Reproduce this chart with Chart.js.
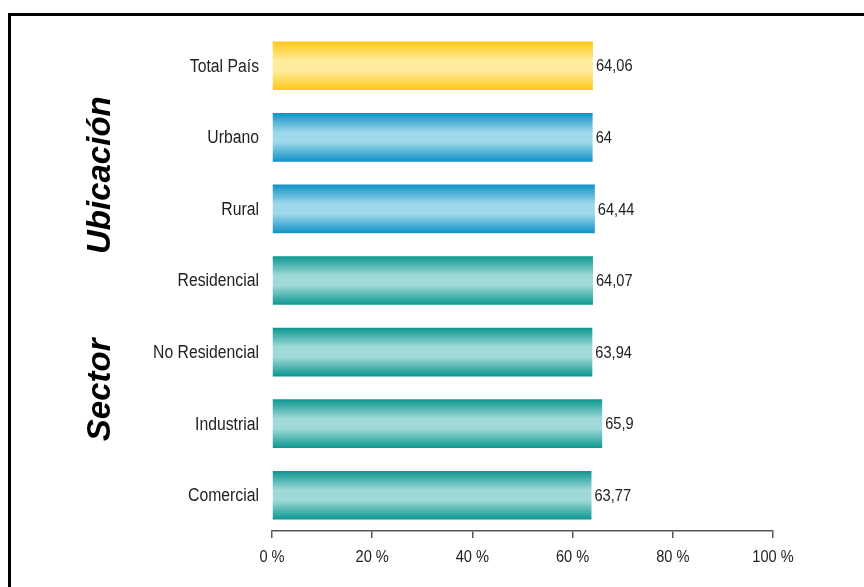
<!DOCTYPE html>
<html>
<head>
<meta charset="utf-8">
<script src="https://cdn.jsdelivr.net/npm/chart.js@4/dist/chart.umd.min.js"></script>
<style>
  html, body { margin: 0; padding: 0; background: #fff; }
  #wrap { width: 864px; height: 587px; }
</style>
</head>
<body>
<div id="wrap"><canvas id="chart1" width="864" height="587"></canvas></div>
<script>
'use strict'

const CATEGORIES = ['Total País', 'Urbano', 'Rural', 'Residencial', 'No Residencial', 'Industrial', 'Comercial']
const VALUES = [64.06, 64, 64.44, 64.07, 63.94, 65.9, 63.77]
const GROUPS = ['total', 'ubicacion', 'ubicacion', 'sector', 'sector', 'sector', 'sector']
const GROUP_LABELS = [
	{ text: 'Ubicación', from: 1, to: 2 },
	{ text: 'Sector', from: 3, to: 6 }
]
const X_TICKS = [0, 20, 40, 60, 80, 100]

// edge colour / centre colour for each bar group
const SHADES = {
	total: ['#ffc816', '#ffec9c'],
	ubicacion: ['#0f92c6', '#9fd8ea'],
	sector: ['#0c9690', '#a0dad8']
}

const SANS = '"Liberation Sans", Arial, sans-serif'
const TEXT_COLOR = '#222'
const BAR_PCT = 0.68

const fmt = v => String(v).replace('.', ',')

// no narrow face installed, so squeeze the regular one horizontally
const narrowText = function(c, text, x, y, size, squeeze, align) {
	c.save()
	c.font = size + 'px ' + SANS
	c.fillStyle = TEXT_COLOR
	c.textAlign = align
	c.textBaseline = 'middle'
	c.translate(x, y)
	c.scale(squeeze, 1)
	c.fillText(text, 0, 0)
	c.restore()
}

const barFill = function(ctx) {
	const chart = ctx.chart
	const yScale = chart.scales.y
	if (!chart.chartArea || !yScale) return SHADES[GROUPS[ctx.dataIndex]][0]
	const y = yScale.getPixelForValue(ctx.dataIndex)
	const half = (chart.chartArea.bottom - chart.chartArea.top) / CATEGORIES.length * BAR_PCT / 2
	const [edge, mid] = SHADES[GROUPS[ctx.dataIndex]]
	const g = chart.ctx.createLinearGradient(0, y - half, 0, y + half)
	g.addColorStop(0, edge)
	g.addColorStop(0.4, mid)
	g.addColorStop(0.6, mid)
	g.addColorStop(1, edge)
	return g
}

// frame round the whole figure
const framePlugin = {
	id: 'frame',
	afterDraw(chart) {
		const c = chart.ctx
		c.save()
		c.strokeStyle = '#000'
		c.lineWidth = 3
		c.strokeRect(9.5, 14.5, 900, 700)
		c.restore()
	}
}

// category names, axis percentages and bar values
const labelsPlugin = {
	id: 'narrowLabels',
	afterDatasetsDraw(chart) {
		const c = chart.ctx
		const xScale = chart.scales.x
		const yScale = chart.scales.y
		CATEGORIES.forEach((name, i) => {
			narrowText(c, name, chart.chartArea.left - 13, yScale.getPixelForValue(i) + 1, 18, 0.875, 'right')
		})
		X_TICKS.forEach(v => {
			narrowText(c, v + ' %', xScale.getPixelForValue(v), chart.chartArea.bottom + 26, 17, 0.86, 'center')
		})
		chart.getDatasetMeta(0).data.forEach((bar, i) => {
			narrowText(c, fmt(VALUES[i]), bar.x + 3, bar.y + 1, 17, 0.86, 'left')
		})
	}
}

// rotated group titles on the left
const groupTitles = {
	id: 'groupTitles',
	afterDraw(chart) {
		const c = chart.ctx
		const yScale = chart.scales.y
		c.save()
		c.font = 'italic bold 33px ' + SANS
		c.fillStyle = '#000'
		c.textAlign = 'center'
		c.textBaseline = 'middle'
		GROUP_LABELS.forEach(g => {
			const y = (yScale.getPixelForValue(g.from) + yScale.getPixelForValue(g.to)) / 2
			c.save()
			c.translate(101, y + 2)
			c.rotate(-Math.PI / 2)
			c.fillText(g.text, 0, 0)
			c.restore()
		})
		c.restore()
	}
}

const ctx = document.getElementById('chart1').getContext('2d')
const chart = new Chart(ctx, {
	type: 'bar',
	data: {
		labels: CATEGORIES,
		datasets: [{
			data: VALUES,
			backgroundColor: barFill,
			borderWidth: 0,
			barPercentage: BAR_PCT,
			categoryPercentage: 1
		}]
	},
	options: {
		indexAxis: 'y',
		responsive: false,
		animation: false,
		layout: { padding: { top: 30, right: 91, left: 0, bottom: 0 } },
		plugins: {
			legend: { display: false },
			tooltip: { enabled: false }
		},
		scales: {
			x: {
				min: 0,
				max: 100,
				afterBuildTicks: scale => { scale.ticks = X_TICKS.map(v => ({ value: v })) },
				afterFit: scale => { scale.height = 56 },
				grid: {
					drawOnChartArea: false,
					drawTicks: true,
					tickLength: 7,
					color: '#555',
					lineWidth: 1.5
				},
				border: { display: true, color: '#555', width: 1.5 },
				ticks: { display: false }
			},
			y: {
				afterFit: scale => { scale.width = 272 },
				grid: { display: false, drawTicks: false },
				border: { display: false },
				ticks: { display: false }
			}
		}
	},
	plugins: [labelsPlugin, groupTitles, framePlugin]
})
</script>
</body>
</html>
